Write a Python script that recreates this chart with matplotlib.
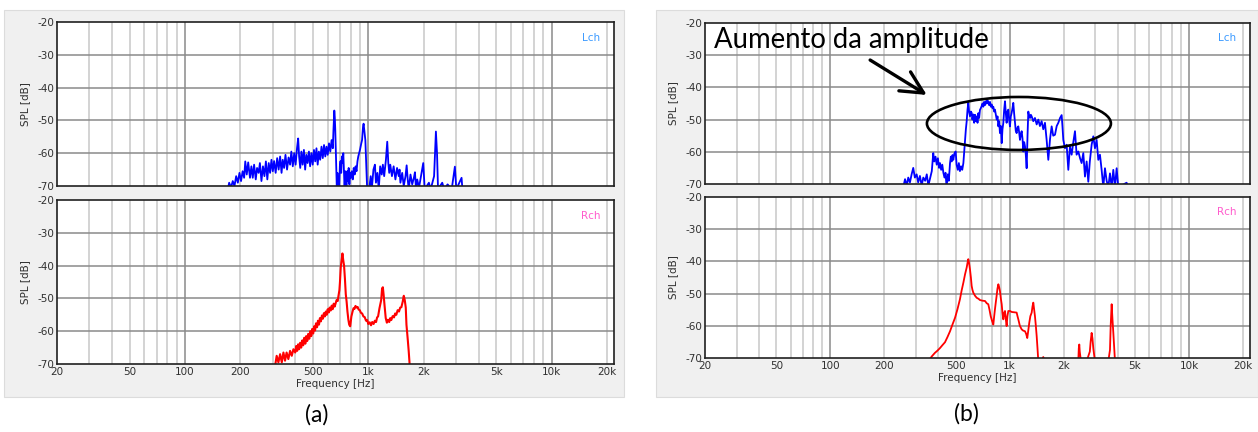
import matplotlib.pyplot as plt
import numpy as np
from matplotlib.patches import Ellipse, Rectangle
from matplotlib.ticker import NullLocator

W, H = 1258, 432

# spectra as (frequency [Hz], SPL [dB]); values under -70 dB sit below the plot floor
lch_a = [
    (171, -71), (174, -69), (178, -70.5), (182, -68.5), (186, -70), (190, -67), (194, -69),
    (198, -66), (202, -68.5), (206, -65.5), (210, -67.5), (213, -62.5), (217, -66.5),
    (221, -62.8), (226, -67.5), (230, -64), (234, -67.5), (238, -63.5), (243, -68),
    (247, -64.5), (252, -66), (256, -63), (261, -68.5), (266, -64), (271, -67), (276, -62.5),
    (281, -68), (286, -63), (291, -66), (296, -62), (301, -65.5), (306, -62.4), (312, -66),
    (318, -61.5), (324, -65), (330, -61), (336, -66), (341, -62), (347, -64.5), (353, -60.5),
    (360, -65), (367, -61.3), (374, -63.5), (380, -59.5), (387, -64), (394, -60), (401, -63.5),
    (408, -58.5), (414, -55.5), (419, -61), (425, -64.5), (431, -59.5), (438, -63.5),
    (445, -59), (452, -65), (459, -60.5), (466, -63), (474, -59.5), (481, -64), (489, -60),
    (497, -63.5), (505, -59), (513, -62.5), (521, -58.5), (529, -63.5), (537, -59.5),
    (546, -62), (555, -58), (564, -61.5), (573, -57.5), (582, -61), (591, -58), (600, -60.5),
    (610, -57), (620, -59.5), (630, -56), (640, -58.5), (645, -53), (652, -47), (656, -49),
    (660, -53), (664, -59), (668, -65), (673, -71), (678, -66), (683, -71), (688, -67.5),
    (693, -71), (699, -64), (705, -62.4), (711, -66), (717, -61), (723, -63), (730, -60),
    (736, -66), (742, -71), (748, -65.5), (754, -69), (760, -71), (767, -65.5), (774, -68.5),
    (781, -64.5), (788, -69.5), (795, -66), (803, -67.5), (812, -65.5), (822, -68),
    (832, -64.5), (842, -66.5), (852, -64), (862, -65.5), (872, -62.5), (881, -61),
    (900, -59), (915, -57), (924, -56), (935, -52), (942, -51), (950, -53), (963, -56),
    (972, -62), (985, -71), (1010, -71), (1030, -67), (1044, -71), (1066, -65), (1086, -63.5),
    (1100, -69), (1120, -66), (1140, -71), (1160, -64), (1183, -66.5), (1200, -63.5),
    (1220, -67), (1247, -62), (1268, -56.5), (1285, -63), (1300, -66), (1317, -63.5),
    (1345, -67), (1374, -64), (1405, -68), (1434, -64.5), (1465, -67), (1480, -65),
    (1496, -69), (1530, -66), (1560, -70), (1595, -67), (1618, -63.7), (1640, -68),
    (1660, -71), (1698, -66.5), (1735, -69.5), (1772, -67.5), (1796, -65.8), (1820, -71),
    (1848, -68), (1890, -70.5), (1930, -67.5), (1993, -63), (2030, -71), (2140, -69),
    (2189, -71), (2284, -67), (2337, -53.4), (2370, -60), (2400, -71), (2530, -69),
    (2594, -71), (2706, -69.5), (2850, -71), (2966, -64.1), (3020, -71), (3226, -67.5),
    (3260, -71),
]

rch_a = [
    (309, -71), (316, -67.5), (323, -69.5), (330, -67), (337, -69.5), (344, -66.5), (351, -69),
    (358, -66.5), (366, -68.5), (374, -66), (382, -67.5), (390, -65.5), (399, -66.5),
    (404, -64.5), (409, -66), (414, -64), (419, -65.5), (425, -63.5), (430, -65), (436, -62.8),
    (441, -64.3), (447, -62), (453, -63.8), (458, -61.5), (464, -63), (470, -60.8),
    (476, -62.3), (482, -60), (488, -61.5), (494, -59.3), (500, -60.7), (506, -58.5),
    (512, -59.8), (518, -57.6), (525, -58.8), (531, -56.8), (538, -58), (544, -56), (551, -57),
    (558, -55.2), (565, -56.2), (572, -54.5), (579, -55.5), (586, -54), (593, -55),
    (600, -53.3), (608, -54.3), (615, -52.8), (623, -53.7), (631, -52.2), (639, -53.3),
    (647, -51.6), (655, -52.5), (663, -51.5), (671, -50.5), (680, -50.8), (688, -49),
    (695, -47.5), (700, -45), (707, -40.5), (714, -38.5), (722, -36.3), (730, -38.5),
    (737, -40), (745, -44), (753, -48.7), (761, -51), (769, -54), (778, -56.5), (786, -58),
    (796, -58.5), (808, -55.5), (820, -54), (830, -53), (840, -53.2), (851, -52.3),
    (862, -52.8), (874, -52.6), (885, -53.4), (898, -53.6), (911, -54.4), (925, -54.6),
    (940, -55.5), (955, -55.7), (971, -56.8), (985, -56.6), (1000, -57.8), (1017, -57.3),
    (1034, -58.2), (1050, -57.2), (1068, -57.8), (1085, -56.8), (1102, -57.2), (1116, -55.8),
    (1130, -55.5), (1150, -53), (1175, -50.5), (1188, -47), (1200, -46.6), (1212, -49),
    (1225, -52), (1244, -56), (1262, -57.4), (1281, -56.5), (1300, -57.2), (1317, -56),
    (1334, -56.6), (1357, -55.4), (1380, -55.8), (1400, -54.6), (1421, -55), (1445, -53.6),
    (1470, -54), (1492, -52.8), (1514, -52.7), (1540, -51), (1561, -49.2), (1580, -50.5),
    (1600, -52.8), (1614, -58), (1641, -62.6), (1660, -66), (1684, -71),
]

lch_b = [
    (255, -71), (261, -68.5), (267, -70.5), (272, -68), (278, -69.5), (284, -67), (290, -65),
    (296, -68), (303, -67), (309, -69.5), (316, -67.5), (323, -70.5), (330, -68), (338, -69),
    (345, -67), (352, -70.5), (360, -68.2), (368, -66), (375, -60.4), (380, -63), (386, -61.5),
    (392, -64), (398, -62), (404, -65), (409, -63.5), (415, -65.6), (421, -64), (427, -66.5),
    (433, -68), (439, -66.5), (445, -71), (452, -67), (458, -69), (465, -63.5), (470, -61.5),
    (475, -63), (480, -61), (485, -62.5), (492, -60.5), (500, -59.9), (506, -64), (514, -65.6),
    (521, -63.5), (528, -66), (536, -64.5), (544, -65.6), (552, -63.5), (558, -60),
    (564, -56.3), (570, -53), (576, -50.5), (582, -47), (588, -44.8), (594, -47.5), (601, -49),
    (608, -47.5), (614, -47.9), (620, -50), (627, -48.4), (634, -51), (641, -48.5),
    (648, -50.5), (655, -49), (662, -51), (669, -48), (676, -49.5), (683, -47), (690, -46.5),
    (698, -45.8), (706, -45), (713, -46), (720, -44.5), (729, -45.5), (737, -44.3), (745, -45),
    (752, -44), (760, -44.6), (768, -45.5), (777, -44.5), (785, -46), (794, -45.3),
    (803, -46.5), (811, -46), (820, -47.5), (828, -46.9), (838, -48.5), (847, -50), (856, -49),
    (865, -52.1), (874, -50.5), (883, -54.2), (893, -52), (903, -57.3), (912, -53), (922, -51),
    (932, -47), (942, -44.3), (952, -48), (962, -51), (972, -47.5), (983, -46.9), (993, -50),
    (1004, -52.1), (1015, -49), (1026, -47.9), (1037, -46.5), (1048, -44.8), (1059, -48),
    (1071, -51), (1082, -53.5), (1094, -54.2), (1106, -52.5), (1118, -52.1), (1130, -54),
    (1142, -56.3), (1155, -54.5), (1167, -53.6), (1180, -56), (1192, -59.9), (1205, -57),
    (1218, -58.3), (1231, -61), (1244, -65.1), (1258, -55), (1271, -47.5), (1285, -49),
    (1299, -49.5), (1313, -48.5), (1327, -49), (1355, -50.5), (1384, -49.5), (1415, -51.5),
    (1445, -50), (1475, -52), (1508, -50.5), (1540, -53), (1574, -51), (1608, -56.3),
    (1643, -62.5), (1680, -56), (1715, -52.1), (1750, -55), (1790, -54.7), (1830, -52),
    (1868, -51), (1910, -49.5), (1950, -48.6), (1970, -52), (1992, -56.3), (2035, -58.9),
    (2079, -57.8), (2124, -65.6), (2170, -58.3), (2217, -60.9), (2265, -57), (2314, -53.6),
    (2363, -60.9), (2415, -59.9), (2470, -62), (2520, -63.5), (2575, -60.4), (2631, -67.7),
    (2688, -63), (2746, -69.3), (2800, -63), (2866, -57.8), (2928, -55.2), (2991, -58.9),
    (3056, -56.3), (3122, -62.5), (3189, -60.9), (3258, -65.6), (3329, -71), (3401, -65.1),
    (3475, -69), (3550, -71), (3627, -66.7), (3706, -71), (3785, -65.6), (3867, -71),
    (3951, -65.1), (4036, -71), (4490, -69.6), (4590, -71),
]

rch_b = [
    (352, -71), (368, -69.5), (383, -68.4), (396, -67.7), (409, -66.9), (422, -66), (436, -65.1),
    (450, -63.5), (465, -61.7), (480, -59.6), (496, -57.5), (512, -54.8), (528, -51.8),
    (540, -49), (552, -46.6), (564, -44), (576, -41.9), (582, -40.5), (588, -39.3), (594, -40.5),
    (601, -42.5), (608, -45), (614, -47.6), (620, -48.8), (627, -49.7), (640, -50.6),
    (655, -51.3), (670, -51.6), (683, -52), (705, -52.2), (729, -52.3), (745, -53), (760, -53.3),
    (772, -55), (784, -57), (798, -58.5), (811, -59.6), (820, -57), (828, -54.9), (838, -52.5),
    (846, -50.7), (855, -48.5), (865, -47.1), (874, -48), (883, -49.2), (893, -51.5),
    (903, -53.3), (912, -56), (922, -58), (932, -56), (942, -55.4), (952, -58), (962, -60.1),
    (972, -57), (983, -55.4), (1005, -55.4), (1026, -55.7), (1060, -55.8), (1094, -55.9),
    (1106, -57), (1118, -58), (1140, -60), (1167, -61.1), (1190, -61.5), (1218, -61.7),
    (1236, -62.5), (1254, -63.8), (1270, -61.5), (1287, -59), (1305, -57), (1327, -55.9),
    (1341, -54), (1355, -52.8), (1370, -55), (1384, -57), (1400, -60), (1415, -63.2),
    (1430, -67), (1445, -71), (1500, -71), (1540, -69.7), (1574, -71), (2415, -71),
    (2430, -67), (2446, -65.8), (2460, -68), (2499, -71), (2688, -71), (2800, -68),
    (2829, -65), (2866, -62.2), (2897, -64), (2928, -67), (2991, -71), (3550, -71),
    (3627, -67.5), (3660, -60), (3706, -53.3), (3745, -58), (3785, -62), (3868, -71),
]

tick_freqs = [20, 50, 100, 200, 500, 1000, 2000, 5000, 10000, 20000]
tick_labels = ["20", "50", "100", "200", "500", "1k", "2k", "5k", "10k", "20k"]
spl_ticks = [-20, -30, -40, -50, -60, -70]
decade_lines = [100, 1000, 10000]
minor_lines = [k * d for d in (10, 100, 1000, 10000) for k in range(2, 10)
               if 20 < k * d <= 20000 and k * d not in decade_lines]

TICK_FONT = dict(family="DejaVu Sans", size=7.5, color="#303030")


def px_box(left, right, top, bottom):
    return [left / W, 1 - bottom / H, (right - left) / W, (bottom - top) / H]


def draw_channel(ax, pts, color, lw, name, name_color, show_x):
    f, spl = np.array(pts).T
    ax.set_facecolor("white")
    for x in minor_lines:
        ax.axvline(x, color="#c8c8c8", lw=1.1, zorder=1)
    for x in decade_lines:
        ax.axvline(x, color="#8a8a8a", lw=1.1, zorder=1)
    for y in spl_ticks[1:-1]:
        ax.axhline(y, color="#8a8a8a", lw=1.1, zorder=1)
    ax.plot(f, spl, color=color, lw=lw, zorder=2)
    ax.set_xscale("log")
    ax.set_xlim(20, 21900)
    ax.set_ylim(-70, -20)
    ax.xaxis.set_minor_locator(NullLocator())
    ax.set_yticks(spl_ticks)
    ax.set_yticklabels([str(v) for v in spl_ticks], **TICK_FONT)
    if show_x:
        ax.set_xticks(tick_freqs)
        ax.set_xticklabels(tick_labels, **TICK_FONT)
        ax.set_xlabel("Frequency [Hz]", labelpad=1.5, **TICK_FONT)
    else:
        ax.set_xticks([])
    ax.tick_params(length=0, pad=2)
    ax.set_ylabel("SPL [dB]", labelpad=5, **TICK_FONT)
    for s in ax.spines.values():
        s.set_color("#202020")
        s.set_linewidth(1.2)
    ax.text(0.975, 0.905, name, transform=ax.transAxes, ha="right", va="center",
            family="DejaVu Sans", size=7.5, color=name_color)


fig = plt.figure(figsize=(W / 100, H / 100), dpi=100)
fig.patch.set_facecolor("white")

# window-style gray backgrounds behind each pair of plots
for left, right in ((4, 624), (656, 1258)):
    fig.patches.append(Rectangle((left / W, 1 - 397 / H), (right - left) / W, 387 / H,
                                 transform=fig.transFigure, facecolor="#f0f0f0",
                                 edgecolor="#dcdcdc", lw=0.8, zorder=-1))

ax_al = fig.add_axes(px_box(57, 614, 22, 186))
ax_ar = fig.add_axes(px_box(57, 614, 200, 364))
ax_bl = fig.add_axes(px_box(705, 1250, 23, 184))
ax_br = fig.add_axes(px_box(705, 1250, 197, 358))

draw_channel(ax_al, lch_a, "#0000ff", 1.3, "Lch", "#3d9bff", False)
draw_channel(ax_ar, rch_a, "#ff0000", 1.5, "Rch", "#ff5ccd", True)
draw_channel(ax_bl, lch_b, "#0000ff", 1.3, "Lch", "#3d9bff", False)
draw_channel(ax_br, rch_b, "#ff0000", 1.3, "Rch", "#ff5ccd", True)

# callout on the raised left-channel band
ax_bl.text(0.0165, 0.845, "Aumento da amplitude", transform=ax_bl.transAxes,
           ha="left", va="baseline", family="Lato", size=19.8, color="black")
ax_bl.annotate("", xy=(0.407, 0.553), xytext=(0.303, 0.770), xycoords="axes fraction",
               arrowprops=dict(arrowstyle="->,head_length=0.8,head_width=0.4",
                               mutation_scale=20, lw=2.4, color="black",
                               shrinkA=0, shrinkB=0))
ax_bl.add_patch(Ellipse((0.576, 0.376), 0.3376, 0.329, transform=ax_bl.transAxes,
                        fill=False, edgecolor="black", lw=1.9, clip_on=False, zorder=4))

fig.text(317 / W, 1 - 415 / H, "(a)", ha="center", va="center", family="Lato", size=16.5)
fig.text(966 / W, 1 - 414 / H, "(b)", ha="center", va="center", family="Lato", size=16.5)

fig.savefig("out.png", dpi=100)
